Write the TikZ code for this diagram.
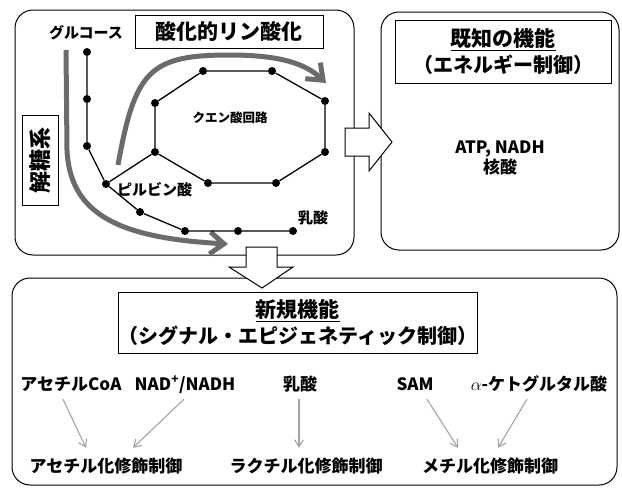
\documentclass[tikz,border=0pt]{standalone}
\usepackage{fontspec}
\setmainfont{Noto Sans CJK JP}
\usetikzlibrary{arrows.meta, positioning}
\definecolor{flowGray}{gray}{0.42}
\definecolor{lightGray}{gray}{0.64}

\begin{document}
\begin{tikzpicture}[x=1pt, y=-1pt, >=stealth,
    panel/.style={draw, line width=1pt, rounded corners=18pt},
    titlebox/.style={draw, line width=0.8pt, fill=white, inner sep=0pt, align=center, font=\bfseries\fontsize{21}{26}\selectfont},
    dot/.style={circle, fill=black, inner sep=0pt, minimum size=8pt},
    chain/.style={line width=1.3pt},
    flow/.style={line width=5pt, flowGray, -{Straight Barb[length=14pt, width=22pt]}},
    lbl/.style={inner sep=0pt, font=\bfseries\fontsize{15}{18}\selectfont},
    metab/.style={inner sep=0pt, text height=13pt, text depth=3pt, font=\bfseries\fontsize{17}{20}\selectfont},
    modarrow/.style={-{Straight Barb[length=7pt, width=9pt]}, lightGray, line width=1.1pt},
    blockarrow/.style={draw, line width=1pt, fill=white}]
    \useasboundingbox (0,0) rectangle (622,490);

    \draw[panel] (15,10) rectangle (354,255);
    \draw[panel] (381,12) rectangle (619,250);
    \draw[panel] (12,278) rectangle (617,485);

    \draw[blockarrow] (345,128) -- (369,128) -- (369,113) -- (392,142) -- (369,171) -- (369,156) -- (345,156) -- cycle;
    \draw[blockarrow] (246,247) -- (277,247) -- (277,267) -- (293,267) -- (262,288) -- (229,267) -- (246,267) -- cycle;

    \draw[flow] (66,50) -- (67,150) .. controls (70,215) and (120,238) .. (228,244);
    \draw[flow] (118,165) .. controls (135,70) and (150,55) .. (230,55) .. controls (290,55) and (310,68) .. (326,83);

    \foreach \n/\p in {g1/{87,52}, g2/{87,99}, g3/{87,146}, pyr/{106,184}, g5/{140,212}, g6/{185,231}, g7/{238,231}, g8/{293,231},
                       c1/{203,71}, c2/{272,71}, c3/{325,101}, c4/{325,152}, c5/{276,183}, c6/{208,183}, c7/{155,152}, c8/{155,103}}
        \node[dot] (\n) at (\p) {};
    \draw[chain] (g1) -- (g2) -- (g3) -- (pyr) -- (g5) -- (g6) -- (g7) -- (g8);
    \draw[chain] (pyr) -- (c7);
    \draw[chain] (c1) -- (c2) -- (c3) -- (c4) -- (c5) -- (c6) -- (c7) -- (c8) -- (c1);

    \node[lbl] (glucose) at (86,33) {グルコース};
    \node[lbl, anchor=west] (pyrlbl) at (117,190) {ピルビン酸};
    \node[lbl, font=\bfseries\fontsize{12.5}{15}\selectfont] (tca) at (230,118) {クエン酸回路};
    \node[lbl] (lactate) at (313,218) {乳酸};

    \node[titlebox, minimum width=188pt, minimum height=33pt] (oxphos) at (229,31.5) {酸化的リン酸化};
    \node[titlebox, rotate=90, minimum width=90pt, minimum height=36pt, font=\bfseries\fontsize{22}{26}\selectfont] (glyco) at (40,160) {解糖系};

    \node[titlebox, minimum width=216pt, minimum height=63pt] (known) at (503,51.5) {\underline{既知の機能}\\{\fontsize{20}{26}\selectfont（エネルギー制御）}};
    \node[lbl, align=center, font=\bfseries\fontsize{17}{18}\selectfont] (energy) at (500,158) {ATP, NADH\\核酸};

    \node[titlebox, minimum width=354pt, minimum height=61pt] (novel) at (298,322.5) {\underline{新規機能}\\{\fontsize{20}{26}\selectfont（シグナル・エピジェネティック制御）}};

    \node[metab] (acoa) at (71,385) {アセチルCoA};
    \node[metab] (nad) at (185,385) {NAD\textsuperscript{+}/NADH};
    \node[metab] (lacb) at (300,385) {乳酸};
    \node[metab] (sam) at (415,385) {SAM};
    \node[metab] (akg) at (539,385) {$\alpha$-ケトグルタル酸};
    \node[metab] (acetyl) at (106,467) {アセチル化修飾制御};
    \node[metab] (lactyl) at (306,467) {ラクチル化修飾制御};
    \node[metab] (methyl) at (490,467) {メチル化修飾制御};

    \draw[modarrow] ([xshift=-8pt, yshift=-6pt]acoa.south) -- ([xshift=-20pt, yshift=11pt]acetyl.north);
    \draw[modarrow] ([xshift=-1pt, yshift=-6pt]nad.south) -- ([xshift=27pt, yshift=11pt]acetyl.north);
    \draw[modarrow] ([xshift=-1pt, yshift=-6pt]lacb.south) -- ([xshift=-7pt, yshift=11pt]lactyl.north);
    \draw[modarrow] ([xshift=12pt, yshift=-6pt]sam.south) -- ([xshift=-32pt, yshift=11pt]methyl.north);
    \draw[modarrow] ([xshift=-12pt, yshift=-6pt]akg.south) -- ([xshift=8pt, yshift=11pt]methyl.north);
\end{tikzpicture}
\end{document}
